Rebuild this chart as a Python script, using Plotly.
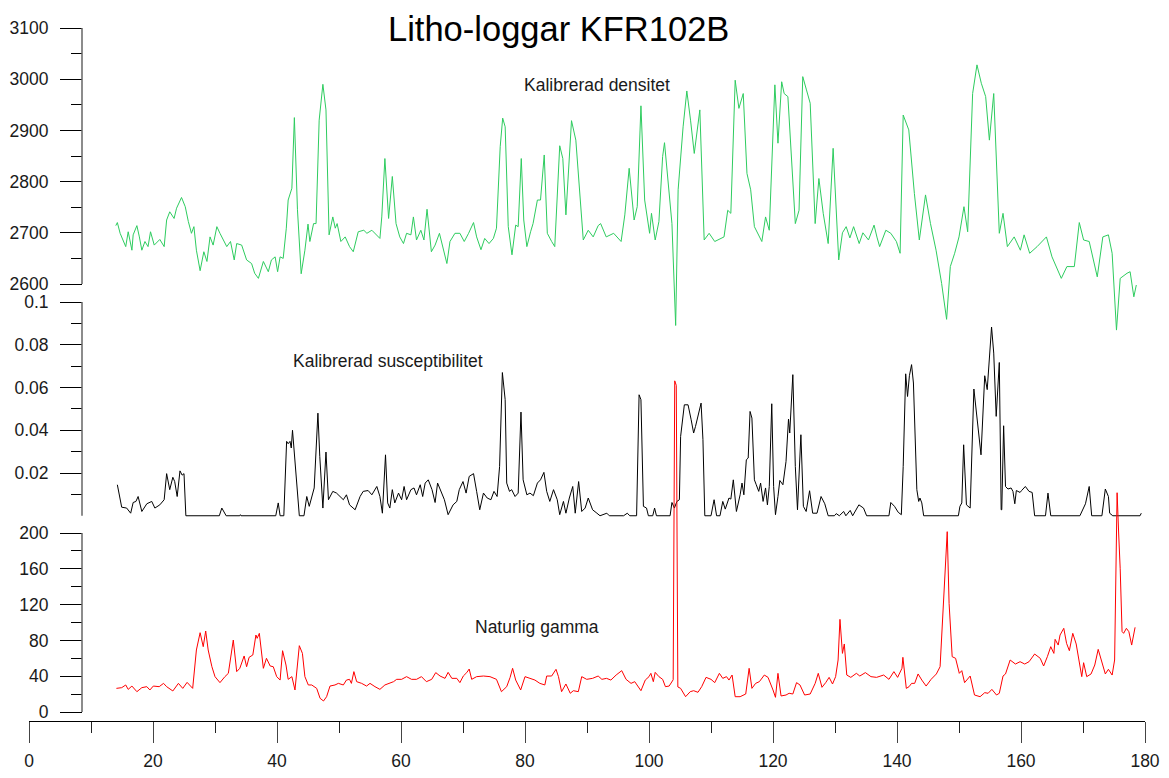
import plotly.graph_objects as go

# ---------------- data ----------------
dens_depth = [14.0, 14.25, 14.7, 15.2, 15.6, 16.0, 16.6, 16.8, 17.4, 17.8, 18.2, 18.7, 19.2, 19.6, 20.2, 21.1,
              21.8, 22.2, 22.7, 23.4, 23.8, 24.6, 25.2, 25.7, 26.2, 26.6, 27.0, 27.6, 28.2, 28.7, 29.2, 29.7,
              30.3, 30.8, 31.9, 32.5, 33.1, 33.5, 34.3, 35.1, 35.9, 36.4, 37.0, 37.8, 38.6, 39.1, 39.7, 40.1,
              40.5, 41.0, 41.5, 41.8, 42.4, 42.8, 43.3, 43.9, 44.5, 45.0, 45.3, 45.9, 46.3, 46.8, 47.4, 47.9,
              48.4, 49.0, 49.4, 49.7, 50.3, 51.0, 51.7, 52.3, 53.1, 54.0, 54.5, 55.3, 56.0, 56.6, 56.9, 57.4,
              58.0, 58.6, 59.2, 59.8, 60.4, 60.9, 61.6, 62.0, 62.5, 63.2, 63.7, 64.2, 64.9, 65.5, 66.2, 66.7,
              67.4, 67.9, 68.7, 69.5, 70.2, 70.9, 71.7, 72.2, 72.9, 73.5, 74.2, 74.9, 75.4, 76.0, 76.4, 76.8,
              77.3, 77.9, 78.5, 78.9, 79.4, 79.8, 80.3, 80.9, 81.3, 82.0, 82.5, 83.1, 83.6, 84.3, 84.8, 85.6,
              86.1, 86.6, 87.5, 88.2, 88.9, 89.4, 90.2, 91.0, 91.8, 92.2, 93.1, 94.3, 95.5, 96.1, 96.8, 97.6,
              98.1, 98.7, 99.3, 100.1, 100.4, 101.0, 101.6, 102.2, 102.5, 103.2, 103.7, 104.3, 104.7, 105.5,
              106.1, 106.7, 107.3, 108.2, 108.9, 109.7, 110.6, 112.1, 112.7, 113.2, 113.9, 114.5, 115.2, 115.8,
              116.4, 117.0, 118.2, 118.8, 119.4, 120.3, 120.8, 121.4, 121.8, 122.4, 123.6, 124.2, 124.8, 125.4,
              126.0, 126.8, 127.4, 128.1, 128.9, 129.7, 130.6, 131.2, 131.8, 132.4, 133.0, 133.9, 134.5, 135.4,
              136.3, 136.8, 137.2, 138.2, 139.0, 139.9, 140.5, 141.0, 141.9, 142.8, 143.6, 144.6, 145.4, 146.3,
              147.2, 148.0, 148.6, 149.3, 150.0, 150.8, 151.4, 152.2, 152.9, 153.6, 154.3, 154.9, 155.6, 156.5,
              157.1, 157.8, 158.9, 159.9, 160.5, 161.4, 162.6, 164.1, 165.0, 166.5, 167.4, 168.6, 169.4, 170.1,
              171.0, 172.3, 173.2, 174.1, 174.7, 175.4, 176.0, 177.1, 177.6, 178.2, 178.6]
density = [2714, 2720, 2699, 2686, 2673, 2702, 2666, 2696, 2714, 2692, 2666, 2683, 2673, 2702, 2676, 2687,
           2673, 2725, 2741, 2728, 2748, 2769, 2751, 2722, 2699, 2712, 2666, 2626, 2663, 2644, 2692, 2676,
           2712, 2699, 2673, 2683, 2647, 2679, 2676, 2647, 2640, 2621, 2611, 2644, 2624, 2647, 2653, 2624,
           2653, 2650, 2709, 2764, 2787, 2925, 2745, 2620, 2666, 2717, 2683, 2718, 2718, 2920, 2990, 2940,
           2696, 2731, 2709, 2718, 2683, 2692, 2673, 2663, 2702, 2705, 2699, 2705, 2696, 2689, 2731, 2845,
           2728, 2810, 2718, 2692, 2679, 2699, 2696, 2731, 2686, 2705, 2686, 2746, 2663, 2676, 2699, 2673,
           2640, 2683, 2699, 2699, 2683, 2699, 2720, 2692, 2667, 2689, 2679, 2689, 2709, 2868, 2924, 2907,
           2712, 2657, 2715, 2712, 2845, 2725, 2673, 2702, 2718, 2764, 2764, 2852, 2699, 2683, 2673, 2870,
           2845, 2735, 2919, 2881, 2777, 2686, 2705, 2692, 2714, 2718, 2692, 2699, 2683, 2735, 2826, 2725,
           2751, 2948, 2764, 2699, 2738, 2686, 2722, 2849, 2876, 2777, 2718, 2519, 2784, 2907,
           2977, 2920, 2855, 2940, 2686, 2699, 2683, 2692, 2744, 2738, 2998, 2943, 2972, 2816,
           2784, 2712, 2683, 2731, 2705, 2989, 2875, 2995, 2972, 2966, 2718, 2744, 3005, 2979,
           2953, 2718, 2806, 2738, 2679, 2865, 2647, 2700, 2712, 2690, 2712, 2679, 2700, 2686,
           2715, 2690, 2673, 2705, 2699, 2683, 2660, 2930, 2901, 2777, 2686, 2774, 2718, 2666,
           2601, 2531, 2634, 2660, 2692, 2751, 2702, 2972, 3028, 2992, 2966, 2881, 2972, 2699,
           2738, 2673, 2692, 2666, 2696, 2660, 2673, 2692, 2653, 2611, 2634, 2634, 2720, 2686,
           2683, 2614, 2692, 2696, 2660, 2510, 2611, 2621, 2624, 2575, 2598]

susc_depth = [14.25, 14.7, 14.95, 15.75, 16.4, 16.8, 17.25, 17.6, 18.2, 19.0, 19.8, 20.3, 21.1, 21.8, 22.2,
              22.7, 23.2, 23.5, 23.9, 24.35, 24.7, 25.0, 25.3, 30.7, 31.1, 31.8, 34.0, 34.1, 34.2, 39.8, 40.2,
              40.5, 41.1, 41.55, 41.8, 42.1, 42.3, 42.5, 42.9, 43.2, 43.6, 44.35, 44.8, 45.2, 46.0, 46.6, 46.9,
              47.4, 47.9, 48.3, 49.0, 49.6, 50.2, 50.7, 51.2, 51.7, 52.6, 53.4, 53.9, 54.7, 55.3, 56.1, 56.6,
              57.0, 57.5, 57.85, 58.2, 58.6, 59.0, 59.6, 60.1, 60.5, 60.9, 61.6, 62.1, 62.5, 63.1, 63.5, 63.9,
              64.4, 65.0, 65.5, 65.9, 66.4, 67.0, 67.6, 68.4, 69.0, 69.4, 70.0, 70.5, 71.0, 71.7, 72.2, 72.7,
              73.3, 73.9, 74.5, 75.0, 75.5, 75.9, 76.35, 76.8, 77.05, 77.5, 77.85, 78.4, 78.9, 79.35, 79.7,
              80.3, 80.8, 81.35, 82.0, 82.5, 83.05, 83.5, 84.0, 84.6, 85.2, 85.6, 86.2, 86.6, 87.15, 87.7,
              88.1, 88.65, 89.15, 89.7, 90.2, 90.9, 91.6, 92.1, 93.2, 93.6, 95.9, 96.5, 96.9, 98.0, 98.4,
              98.7, 99.1, 99.6, 99.9, 100.6, 100.9, 101.2, 103.4, 103.7, 104.1, 104.5, 104.9, 105.1, 105.7,
              106.3, 106.8, 107.2, 107.5, 107.9, 108.4, 108.7, 109.0, 110.0, 110.5, 110.9, 111.45, 111.9,
              112.3, 112.9, 113.2, 113.6, 114.1, 114.7, 115.0, 115.3, 115.7, 116.0, 116.3, 116.6, 117.0,
              117.3, 117.7, 118.0, 118.4, 118.8, 119.1, 119.4, 119.8, 120.1, 120.4, 120.8, 121.1, 121.6,
              122.1, 122.5, 122.7, 123.2, 123.6, 123.95, 124.2, 124.5, 124.9, 125.35, 125.9, 126.4, 127.1,
              127.75, 128.35, 128.9, 129.9, 130.2, 130.7, 131.4, 131.75, 132.45, 132.85, 133.45, 133.85,
              134.6, 135.1, 138.7, 139.0, 139.6, 140.2, 140.7, 141.0, 141.4, 141.7, 142.0, 142.35, 142.65,
              142.95, 143.2, 143.5, 143.7, 144.0, 144.3, 149.9, 150.15, 150.45, 150.75, 151.2, 151.8, 152.4,
              153.1, 153.55, 154.15, 154.55, 155.25, 155.6, 156.0, 156.5, 156.8, 156.9, 157.2, 157.5, 157.9,
              158.4, 158.7, 159.0, 159.25, 159.85, 160.1, 160.7, 161.3, 161.8, 162.2, 163.95, 164.35, 164.8,
              169.5, 170.4, 171.0, 171.4, 173.05, 173.6, 174.1, 174.3, 174.8, 179.2, 179.4]
susc = [0.0145, 0.0075, 0.004, 0.0036, 0.0012, 0.0062, 0.0067, 0.009, 0.002, 0.0056, 0.0067, 0.0036, 0.0051,
        0.0075, 0.0197, 0.0122, 0.018, 0.016, 0.009, 0.021, 0.019, 0.0197, 0.0, 0.0, 0.0036, 0.0, 0.0, 0.0005,
        0.0, 0.0, 0.006, 0.0, 0.0, 0.0348, 0.0337, 0.0348, 0.0317, 0.040, 0.0246, 0.0137, 0.0, 0.0, 0.009,
        0.0044, 0.013, 0.048, 0.0278, 0.0036, 0.0298, 0.0075, 0.0114, 0.0106, 0.009, 0.0075, 0.0098, 0.0051,
        0.0028, 0.009, 0.0114, 0.0118, 0.0098, 0.0137, 0.009, 0.0012, 0.0285, 0.006, 0.0036, 0.0122, 0.006,
        0.0106, 0.0075, 0.0137, 0.0075, 0.0122, 0.013, 0.0098, 0.0145, 0.009, 0.0153, 0.0168, 0.0122, 0.0062,
        0.0153, 0.0114, 0.0075, 0.0005, 0.0051, 0.0067, 0.0122, 0.016, 0.0106, 0.0184, 0.0197, 0.0114, 0.0028,
        0.0106, 0.0083, 0.0075, 0.0114, 0.009, 0.023, 0.067, 0.0543, 0.0153, 0.0114, 0.0122, 0.009, 0.0106,
        0.0485, 0.0168, 0.0098, 0.0106, 0.0094, 0.0153, 0.0168, 0.0203, 0.0114, 0.0067, 0.0122, 0.0075,
        0.0005, 0.0067, 0.0012, 0.0083, 0.0137, 0.0012, 0.016, 0.002, 0.0036, 0.0083, 0.0028, 0.0012, 0.0,
        0.0012, 0.0, 0.0, 0.0012, 0.0, 0.0, 0.0566, 0.0543, 0.0044, 0.0036, 0.0, 0.0, 0.0036, 0.0, 0.0,
        0.0062, 0.0036, 0.0067, 0.0075, 0.0371, 0.0519, 0.0519, 0.0449, 0.0387, 0.0418, 0.0465, 0.0527,
        0.0356, 0.0, 0.0, 0.0075, 0.0, 0.0, 0.0067, 0.0031, 0.0083, 0.0078, 0.0168, 0.002, 0.0098, 0.0153,
        0.0098, 0.0262, 0.027, 0.0488, 0.0457, 0.0168, 0.0145, 0.0114, 0.0153, 0.0067, 0.013, 0.0051, 0.0137,
        0.0524, 0.0137, 0.0005, 0.009, 0.0165, 0.0145, 0.0254, 0.0452, 0.0387, 0.066, 0.023, 0.0028, 0.023,
        0.0379, 0.0044, 0.002, 0.0117, 0.0012, 0.0012, 0.009, 0.0056, 0.0, 0.0, 0.001, 0.0, 0.002, 0.0,
        0.0025, 0.0, 0.0028, 0.0051, 0.0036, 0.0, 0.0, 0.0062, 0.0044, 0.0016, 0.0005, 0.023, 0.0664, 0.0558,
        0.0655, 0.0707, 0.0621, 0.034, 0.0122, 0.0067, 0.0083, 0.006, 0.0, 0.0, 0.0044, 0.006, 0.0332, 0.0051,
        0.0036, 0.0593, 0.0402, 0.0285, 0.0655, 0.059, 0.0883, 0.0761, 0.0465, 0.0717, 0.0028, 0.0028, 0.0421,
        0.0137, 0.0125, 0.013, 0.0114, 0.0056, 0.0118, 0.0109, 0.0118, 0.0137, 0.0114, 0.0109, 0.0, 0.0,
        0.0106, 0.0, 0.0, 0.0056, 0.0137, 0.0, 0.0, 0.0125, 0.009, 0.0012, 0.0, 0.0, 0.0012]

gamma_depth = [14.1, 14.95, 15.6, 16.0, 16.6, 17.4, 18.2, 19.0, 19.5, 20.05, 21.0, 21.7, 22.2, 23.2, 24.1,
               24.8, 25.5, 26.4, 27.0, 27.6, 28.1, 28.5, 28.9, 29.5, 30.0, 30.8, 31.6, 32.15, 32.95, 33.5,
               34.0, 34.7, 35.1, 35.5, 36.1, 36.6, 36.8, 37.15, 37.8, 38.3, 38.9, 39.4, 39.95, 40.5, 40.9,
               41.45, 41.8, 42.4, 42.9, 43.6, 44.1, 44.5, 45.05, 45.6, 46.4, 46.95, 47.5, 48.0, 48.55, 49.35,
               49.9, 50.7, 51.2, 51.7, 52.0, 52.4, 52.85, 53.65, 54.45, 55.0, 55.8, 56.6, 57.4, 58.2, 58.8,
               59.3, 60.1, 60.9, 61.7, 62.5, 63.3, 64.1, 64.95, 65.6, 66.3, 67.1, 67.6, 68.2, 69.0, 69.5,
               70.05, 70.6, 71.0, 71.4, 72.2, 73.3, 74.35, 75.4, 76.2, 77.05, 77.6, 78.0, 78.5, 79.3, 80.0,
               80.8, 81.6, 82.4, 83.2, 83.5, 84.3, 85.0, 85.4, 85.9, 86.6, 87.3, 87.8, 88.6, 89.15, 89.95,
               90.9, 91.8, 92.4, 93.15, 93.85, 94.7, 95.6, 96.3, 97.1, 97.7, 98.7, 99.4, 100.0, 100.3, 100.7,
               101.0, 101.6, 102.2, 102.65, 103.25, 103.9, 104.15, 104.4, 104.65, 105.1, 105.9, 106.65, 107.2,
               107.9, 108.5, 109.2, 110.0, 110.6, 111.35, 111.9, 112.5, 112.9, 113.4, 113.9, 114.7, 115.6,
               116.15, 116.6, 117.2, 117.8, 118.6, 119.2, 120.0, 120.4, 120.8, 121.3, 122.1, 122.6, 123.2,
               123.8, 124.35, 125.1, 126.0, 126.8, 127.3, 127.9, 128.5, 129.05, 129.6, 130.1, 130.5, 130.8,
               131.2, 131.5, 131.9, 132.55, 133.45, 134.0, 134.9, 135.8, 136.7, 137.85, 138.7, 139.5, 140.1,
               140.8, 140.95, 141.25, 141.5, 141.95, 142.35, 142.85, 143.4, 144.0, 144.7, 145.5, 146.35,
               146.95, 147.2, 147.7, 148.1, 148.4, 148.9, 149.45, 150.05, 150.45, 150.9, 151.8, 152.5, 153.4,
               154.15, 154.7, 155.3, 156.05, 156.5, 157.1, 157.5, 158.25, 159.1, 159.85, 160.6, 161.3, 162.2,
               163.1, 163.65, 164.25, 164.8, 165.3, 165.5, 166.0, 166.3, 166.9, 167.35, 167.8, 168.35, 168.9,
               169.4, 169.8, 170.1, 170.6, 171.3, 171.9, 172.45, 173.05, 173.6, 174.1, 174.7, 175.1, 175.5,
               175.75, 176.0, 176.3, 176.55, 177.0, 177.4, 177.85, 178.4]
gamma = [26.4, 27.2, 30.2, 25.3, 29, 22.7, 27.2, 28.3, 24.6, 29, 28.3, 32, 28.3, 23.5, 32,
         26.4, 33.1, 26.4, 69.3, 88.6, 73, 90.5, 69.3, 50.6, 39.5, 32.8, 39.5, 43.2, 80.4, 45.1,
         48.8, 62.6, 50.6, 61.1, 63.7, 86, 82.3, 87.9, 48.8, 60, 51.4, 50.6, 39.5, 35.7, 68.5,
         52.5, 36.5, 39.5, 24.6, 74.1, 65.5, 39.5, 30.2, 30.2, 26.4, 15.3, 12.3, 17.1, 29, 30.2,
         32, 30.2, 35.7, 36.5, 32, 45.1, 33.9, 32, 29, 32, 28.3, 25.3, 30.2, 32.8, 33.9,
         36.5, 36.5, 39.5, 36.5, 36.5, 39.5, 33.9, 36.5, 44, 40.2, 37.6, 44.3, 37.6, 37.6, 32.8,
         40.2, 44, 48, 36.5, 39.5, 40.2, 39.5, 36.5, 22.7, 28.3, 38.7, 48.8, 35.7, 24.6, 39.5,
         37.6, 35.7, 32, 30.2, 40.2, 40.2, 47.7, 39.5, 22.7, 31.3, 20.9, 23.8, 22.7, 39.5, 36.5,
         37.6, 40.2, 36.5, 37.6, 35.7, 41.3, 46.2, 36.5, 32, 33.9, 23.8, 35.7, 39.5, 43.2, 33.9,
         44.3, 39.5, 36.5, 28.3, 29, 36, 370, 365, 28, 26.4, 17.1, 22.7, 23.8,
         22, 28.3, 38.7, 36.5, 32.8, 43.2, 37.6, 39.5, 35.7, 41.3, 17.1, 17.1, 20.1,
         48.8, 26.4, 32, 33.9, 41.3, 38.7, 24.6, 16.4, 43.2, 17.9, 19, 20.9, 20.1,
         32.8, 30.2, 19, 20.1, 32, 43.2, 27.6, 32.8, 38.7, 31.3, 39.5, 58.1, 103.5,
         65.5, 76, 41.3, 38.7, 43.2, 40.2, 44, 39.5, 38.7, 41.3, 36.5, 45.1, 38.7,
         48.8, 61.1, 39.5, 26.4, 28.3, 32, 32, 42.5, 35.7, 29, 36.5, 42.5,
         50.6, 84.2, 147.5, 201.5, 121.4, 61.8, 60, 43.2, 46.2, 32.8, 40.2, 19, 17.1,
         21.6, 20.9, 25.3, 19, 20.9, 40.2, 42.5, 58.1, 53.6, 56.2, 53.6, 56.2, 64.8,
         60, 51.4, 61.8, 73, 65.5, 81.2, 74.8, 86, 93.5, 76.7, 68.5, 87.9, 76,
         54.4, 39.5, 55.1, 39.5, 42.5, 52.5, 70, 55.1, 42.5, 47.7, 41.3, 58.1, 245,
         200, 160, 90, 87.9, 93.5, 89.7, 74.8, 94.6]

x_ticks = [0, 20, 40, 60, 80, 100, 120, 140, 160, 180]
x_minor = [10, 30, 50, 70, 90, 110, 130, 150, 170]
dens_ticks = [2600, 2700, 2800, 2900, 3000, 3100]
dens_minor = [2650, 2750, 2850, 2950, 3050]
susc_ticks = [0.02, 0.04, 0.06, 0.08, 0.1]
susc_labels = ["0.02", "0.04", "0.06", "0.08", "0.1"]
susc_minor = [0.01, 0.03, 0.05, 0.07, 0.09]
gamma_ticks = [0, 40, 80, 120, 160, 200]
gamma_minor = [20, 60, 100, 140, 180]

title_text = "Litho-loggar KFR102B"
label_dens = "Kalibrerad densitet"
label_susc = "Kalibrerad susceptibilitet"
label_gamma = "Naturlig gamma"

# ---------------- layout geometry (pixels) ----------------
W, H = 1169, 778
ML, MR, MT, MB = 29, 24, 20, 57
PLOT_TOP, PLOT_BOT = MT, H - MB
PW = W - ML - MR
PH = PLOT_BOT - PLOT_TOP
YAXIS_PX = 82
FONT = "Liberation Sans, Arial, sans-serif"


def yrange(v_a, p_a, v_b, p_b):
    per_px = (v_a - v_b) / (p_b - p_a)
    return [v_a + (p_a - PLOT_BOT) * per_px, v_a + (p_a - PLOT_TOP) * per_px]


def px_x(p):
    return (p - ML) / PW


def px_y(p):
    return (PLOT_BOT - p) / PH


ax_pos = px_x(YAXIS_PX)

fig = go.Figure()
fig.add_trace(go.Scatter(x=dens_depth, y=density, mode="lines", yaxis="y",
                         line=dict(color="#2ecc5f", width=1)))
fig.add_trace(go.Scatter(x=susc_depth, y=susc, mode="lines", yaxis="y2",
                         line=dict(color="black", width=1)))
fig.add_trace(go.Scatter(x=gamma_depth, y=gamma, mode="lines", yaxis="y3",
                         line=dict(color="#ff0000", width=1)))

tickfont = dict(family=FONT, size=17.5, color="#1a1a1a")
ycommon = dict(anchor="free", position=ax_pos, showgrid=False, zeroline=False, showline=False,
               ticks="outside", ticklen=22, tickwidth=1, tickcolor="black", tickfont=tickfont,
               tickmode="array", ticklabelstandoff=8, automargin=False)

fig.update_layout(
    width=W, height=H, margin=dict(l=ML, r=MR, t=MT, b=MB, autoexpand=False),
    paper_bgcolor="white", plot_bgcolor="white", showlegend=False,
    xaxis=dict(range=[0, 180], showgrid=False, zeroline=False, showline=True, linecolor="black",
               linewidth=1, ticks="outside", ticklen=21, tickwidth=1, tickcolor="#444",
               tickmode="array", tickvals=x_ticks, tickfont=tickfont, ticklabelstandoff=3,
               automargin=False,
               minor=dict(tickmode="array", tickvals=x_minor, ticks="outside", ticklen=11,
                          tickcolor="#222", tickwidth=1, showgrid=False)),
    yaxis=dict(range=yrange(3100, 28, 2600, 284), tickvals=dens_ticks,
               minor=dict(tickmode="array", tickvals=dens_minor, ticks="outside", ticklen=11,
                          tickcolor="black", showgrid=False), **ycommon),
    yaxis2=dict(range=yrange(0.1, 302, 0.0, 515.75), overlaying="y", tickvals=susc_ticks,
                ticktext=susc_labels,
                minor=dict(tickmode="array", tickvals=susc_minor, ticks="outside", ticklen=11,
                           tickcolor="black", showgrid=False), **ycommon),
    yaxis3=dict(range=yrange(200, 533, 0, 712), overlaying="y", tickvals=gamma_ticks,
                minor=dict(tickmode="array", tickvals=gamma_minor, ticks="outside", ticklen=11,
                           tickcolor="black", showgrid=False), **ycommon),
)

line_style = dict(color="#666", width=1.5)
fig.add_shape(type="line", xref="paper", x0=ax_pos, x1=ax_pos, yref="y", y0=2600, y1=3100, line=line_style)
fig.add_shape(type="line", xref="paper", x0=ax_pos, x1=ax_pos, yref="y2", y0=0, y1=0.1, line=line_style)
fig.add_shape(type="line", xref="paper", x0=ax_pos, x1=ax_pos, yref="y3", y0=0, y1=200, line=line_style)

ann_font = dict(family=FONT, size=17.5, color="#1a1a1a")
fig.add_annotation(text=title_text, xref="paper", yref="paper", x=px_x(558), y=px_y(29),
                   xanchor="center", yanchor="middle", showarrow=False,
                   font=dict(family=FONT, size=34.5, color="black"))
fig.add_annotation(text=label_dens, xref="paper", yref="paper", x=px_x(596.5), y=px_y(85),
                   xanchor="center", yanchor="middle", showarrow=False, font=ann_font)
fig.add_annotation(text=label_susc, xref="paper", yref="paper", x=px_x(388.5), y=px_y(361),
                   xanchor="center", yanchor="middle", showarrow=False, font=ann_font)
fig.add_annotation(text=label_gamma, xref="paper", yref="paper", x=px_x(537), y=px_y(627),
                   xanchor="center", yanchor="middle", showarrow=False, font=ann_font)

fig.write_html("out.html")
